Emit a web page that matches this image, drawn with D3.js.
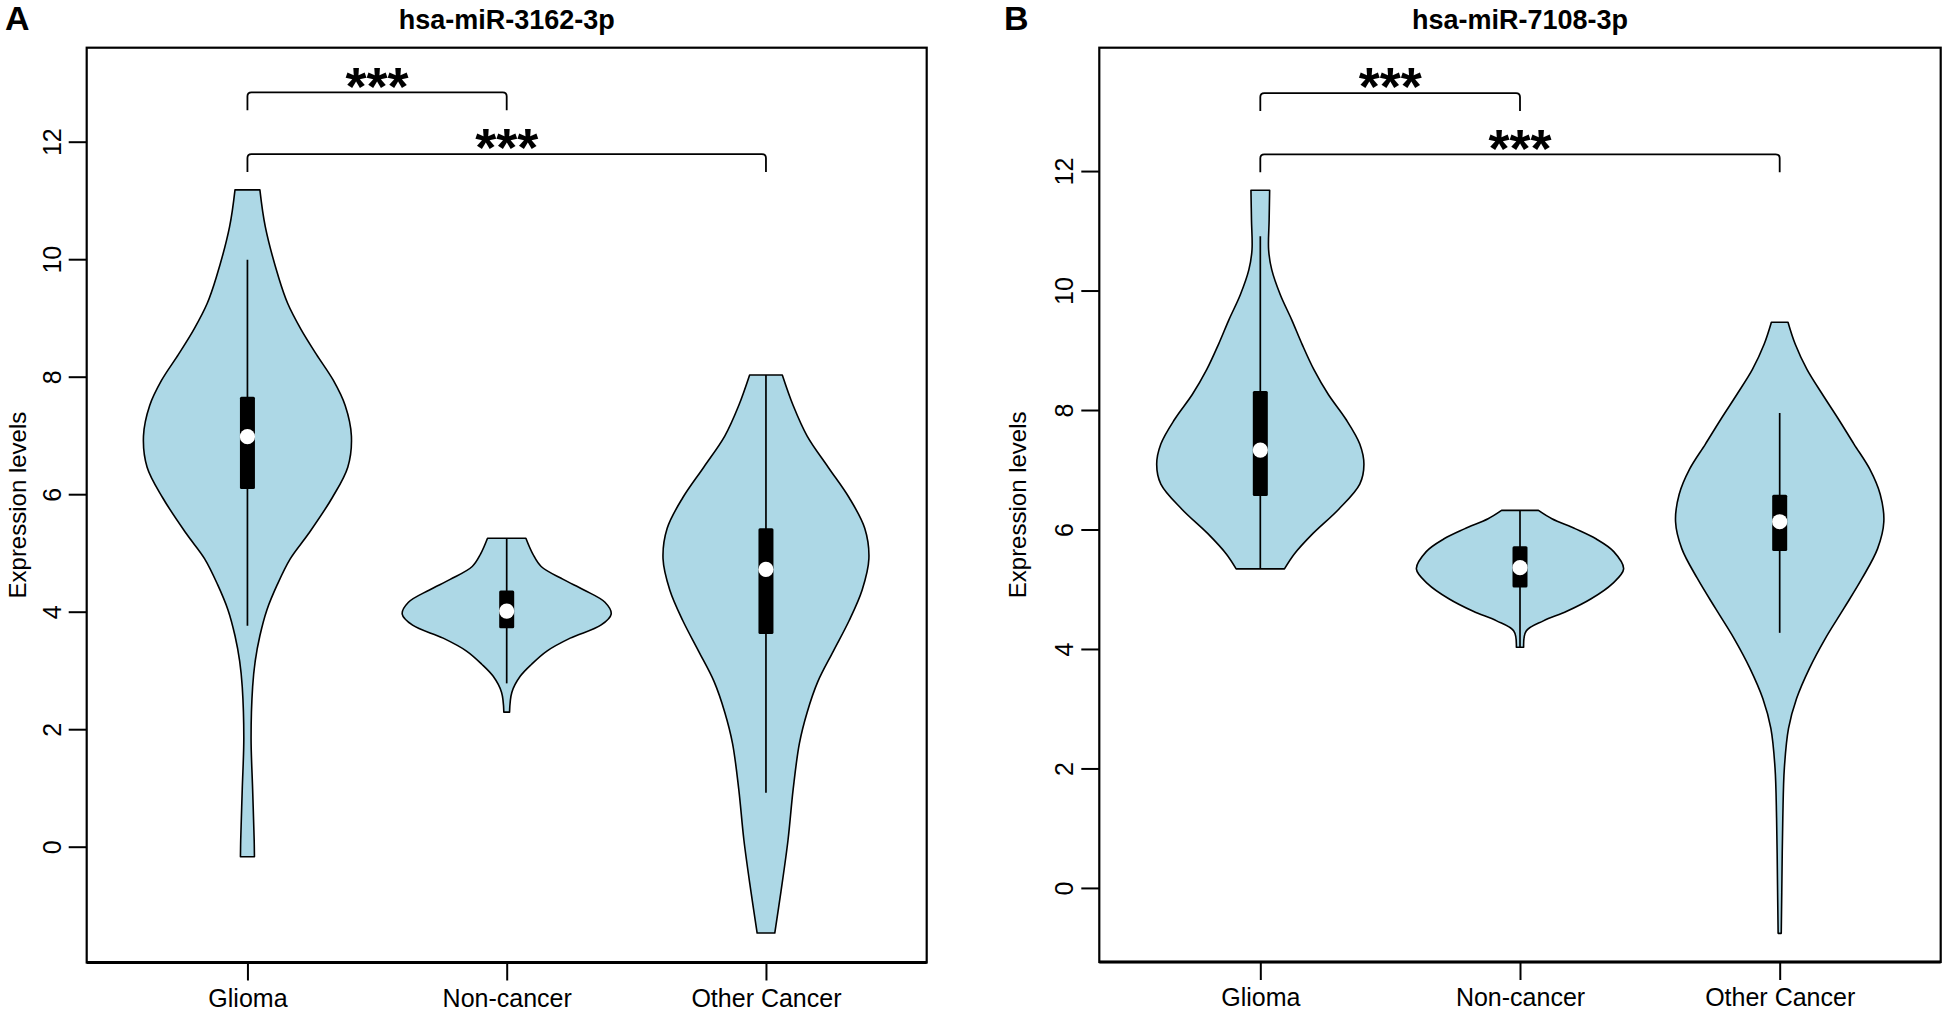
<!DOCTYPE html>
<html>
<head>
<meta charset="utf-8">
<script src="https://cdn.jsdelivr.net/npm/d3@7"></script>
<style>
  html, body { margin: 0; padding: 0; background: #ffffff; }
  svg { display: block; }
  text { font-family: "Liberation Sans", Arial, Helvetica, sans-serif; fill: #000; }
</style>
</head>
<body>
<svg id="chart" width="1944" height="1010"></svg>
<script>
// ---------------- DATA ----------------
const categories = ["Glioma", "Non-cancer", "Other Cancer"];
const panelLetters = ["A", "B"];
const panelTitles = ["hsa-miR-3162-3p", "hsa-miR-7108-3p"];
const yAxisTitle = "Expression levels";
const yTicks = [0, 2, 4, 6, 8, 10, 12];
const sigPairs = [[1, 2], [1, 3]];
const sigLabels = ["***", "***"];

// violin outlines: [expression value, half width in category units]
const violinA_Glioma = [[11.18,0.048],[10.55,0.069],[9.68,0.121],[9.25,0.155],[8.81,0.206],[8.38,0.266],[7.94,0.331],[7.51,0.377],[6.99,0.401],[6.46,0.387],[5.94,0.327],[5.33,0.236],[4.90,0.165],[4.46,0.115],[4.03,0.075],[3.59,0.048],[3.16,0.030],[2.72,0.020],[1.85,0.014],[0.98,0.020],[0.11,0.026],[-0.17,0.027]];
const violinA_NonCancer = [[5.25,0.074],[4.98,0.101],[4.77,0.133],[4.55,0.218],[4.37,0.298],[4.16,0.379],[3.96,0.403],[3.77,0.363],[3.55,0.245],[3.33,0.155],[3.11,0.097],[2.90,0.052],[2.63,0.020],[2.29,0.011]];
const violinA_Other = [[8.03,0.063],[7.51,0.105],[6.99,0.159],[6.46,0.240],[5.94,0.321],[5.42,0.381],[4.90,0.397],[4.37,0.371],[3.85,0.321],[3.33,0.260],[2.81,0.200],[2.29,0.159],[1.76,0.129],[0.98,0.105],[0.11,0.085],[-0.76,0.058],[-1.47,0.034]];

const violinB_Glioma = [[11.68,0.036],[11.18,0.034],[10.68,0.032],[10.35,0.044],[9.93,0.077],[9.51,0.121],[9.10,0.161],[8.68,0.206],[8.26,0.262],[7.85,0.329],[7.43,0.383],[7.09,0.399],[6.76,0.383],[6.34,0.302],[5.93,0.202],[5.59,0.131],[5.34,0.093]];
const violinB_NonCancer = [[6.32,0.071],[6.18,0.123],[6.01,0.214],[5.84,0.294],[5.63,0.361],[5.34,0.399],[5.09,0.355],[4.84,0.274],[4.63,0.180],[4.47,0.090],[4.30,0.024],[4.03,0.014]];
const violinB_Other = [[9.47,0.032],[9.10,0.060],[8.68,0.105],[8.26,0.165],[7.85,0.226],[7.43,0.286],[7.01,0.347],[6.59,0.387],[6.13,0.401],[5.68,0.377],[5.18,0.317],[4.67,0.246],[4.17,0.175],[3.68,0.115],[3.17,0.065],[2.67,0.034],[2.01,0.018],[1.17,0.012],[-0.08,0.008],[-0.76,0.006]];

// box statistics per category
const q3A = [7.66, 4.36, 5.42];
const q1A = [6.09, 3.72, 3.62];
const medianA = [6.98, 4.01, 4.72];
const whiskerHighA = [9.99, 5.25, 8.03];
const whiskerLowA = [3.76, 2.78, 0.92];

const q3B = [8.32, 5.72, 6.58];
const q1B = [6.56, 5.03, 5.64];
const medianB = [7.33, 5.36, 6.13];
const whiskerHighB = [10.91, 6.32, 7.95];
const whiskerLowB = [5.34, 4.03, 4.27];

// significance bracket heights (expression units)
const bracketA = [12.84, 11.79];
const bracketB = [13.305, 12.28];

// ---------------- LAYOUT / STYLE ----------------
const panels = [
  { letter: panelLetters[0], title: panelTitles[0],
    violins: [violinA_Glioma, violinA_NonCancer, violinA_Other],
    q1: q1A, q3: q3A, med: medianA, wHi: whiskerHighA, wLo: whiskerLowA, brackets: bracketA,
    left: 86.7, right: 926.7, top: 47.7, bottom: 962.5, yDomain: [-1.971, 13.6],
    letterX: 5, yTitleX: 26 },
  { letter: panelLetters[1], title: panelTitles[1],
    violins: [violinB_Glioma, violinB_NonCancer, violinB_Other],
    q1: q1B, q3: q3B, med: medianB, wHi: whiskerHighB, wLo: whiskerLowB, brackets: bracketB,
    left: 1099.3, right: 1940.7, top: 47.7, bottom: 962.0, yDomain: [-1.24, 14.065],
    letterX: 1004, yTitleX: 1026 }
];

const fillColor = "#ADD8E6";
const svg = d3.select("#chart");
svg.append("rect").attr("width", 1944).attr("height", 1010).attr("fill", "#fff");

panels.forEach(p => {
  const g = svg.append("g");
  const x = d3.scaleLinear().domain([0.38, 3.62]).range([p.left, p.right]);
  const y = d3.scaleLinear().domain(p.yDomain).range([p.bottom, p.top]);

  // violins
  p.violins.forEach((v, i) => {
    const c = i + 1;
    const area = d3.area()
      .y(d => y(d[0]))
      .x0(d => x(c - d[1]))
      .x1(d => x(c + d[1]))
      .curve(d3.curveCatmullRom.alpha(0.5));
    g.append("path")
      .attr("d", area(v))
      .attr("fill", fillColor)
      .attr("stroke", "#000")
      .attr("stroke-width", 1.6)
      .attr("stroke-linejoin", "round");

    // whisker
    g.append("line")
      .attr("x1", x(c)).attr("x2", x(c))
      .attr("y1", y(p.wLo[i])).attr("y2", y(p.wHi[i]))
      .attr("stroke", "#000").attr("stroke-width", 1.7);
    // box
    const bw = 15;
    g.append("rect")
      .attr("x", x(c) - bw / 2).attr("width", bw)
      .attr("y", y(p.q3[i])).attr("height", y(p.q1[i]) - y(p.q3[i]))
      .attr("rx", 1.5)
      .attr("fill", "#000");
    // median
    g.append("circle")
      .attr("cx", x(c)).attr("cy", y(p.med[i])).attr("r", 7.6)
      .attr("fill", "#fff");
  });

  // significance brackets
  sigPairs.forEach((pair, k) => {
    const xa = x(pair[0]), xb = x(pair[1]);
    const yl = y(p.brackets[k]);
    const leg = 18, r = 4;
    const path = d3.path();
    path.moveTo(xa, yl + leg);
    path.lineTo(xa, yl + r);
    path.quadraticCurveTo(xa, yl, xa + r, yl);
    path.lineTo(xb - r, yl);
    path.quadraticCurveTo(xb, yl, xb, yl + r);
    path.lineTo(xb, yl + leg);
    g.append("path").attr("d", path.toString())
      .attr("fill", "none").attr("stroke", "#000").attr("stroke-width", 1.8);
    g.append("text")
      .attr("x", (xa + xb) / 2).attr("y", yl + 12.3)
      .attr("text-anchor", "middle")
      .attr("font-size", 54).attr("font-weight", "bold")
      .text(sigLabels[k]);
  });

  // frame
  g.append("rect")
    .attr("x", p.left).attr("y", p.top)
    .attr("width", p.right - p.left).attr("height", p.bottom - p.top)
    .attr("fill", "none").attr("stroke", "#000").attr("stroke-width", 2.2);
  g.append("line")
    .attr("x1", p.left).attr("x2", p.right)
    .attr("y1", p.bottom).attr("y2", p.bottom)
    .attr("stroke", "#000").attr("stroke-width", 2.8);

  // y axis
  const yAxis = d3.axisLeft(y).tickValues(yTicks).tickSize(18).tickFormat(d3.format("d"));
  const ya = g.append("g").attr("transform", `translate(${p.left},0)`).call(yAxis);
  ya.select(".domain").remove();
  ya.selectAll(".tick line").attr("stroke", "#000").attr("stroke-width", 2);
  ya.selectAll(".tick text")
    .attr("transform", "rotate(-90)")
    .attr("x", 0).attr("y", -26).attr("dy", 0)
    .attr("text-anchor", "middle")
    .attr("font-size", 25).attr("font-family", null);

  // x axis
  const xAxis = d3.axisBottom(x).tickValues([1, 2, 3]).tickSize(18).tickFormat(d => categories[d - 1]);
  const xa = g.append("g").attr("transform", `translate(0,${p.bottom})`).call(xAxis);
  xa.select(".domain").remove();
  xa.selectAll(".tick line").attr("stroke", "#000").attr("stroke-width", 2);
  xa.selectAll(".tick text")
    .attr("y", 44).attr("dy", 0)
    .attr("font-size", 25).attr("font-family", null);

  // axis title
  const midY = (p.top + p.bottom) / 2;
  g.append("text")
    .attr("transform", `translate(${p.yTitleX},${midY}) rotate(-90)`)
    .attr("text-anchor", "middle")
    .attr("font-size", 24)
    .text(yAxisTitle);

  // plot title
  g.append("text")
    .attr("x", (p.left + p.right) / 2).attr("y", 28.5)
    .attr("text-anchor", "middle")
    .attr("font-size", 27).attr("font-weight", "bold")
    .text(p.title);

  // panel letter
  g.append("text")
    .attr("x", p.letterX).attr("y", 30)
    .attr("font-size", 34).attr("font-weight", "bold")
    .text(p.letter);
});
</script>
</body>
</html>
